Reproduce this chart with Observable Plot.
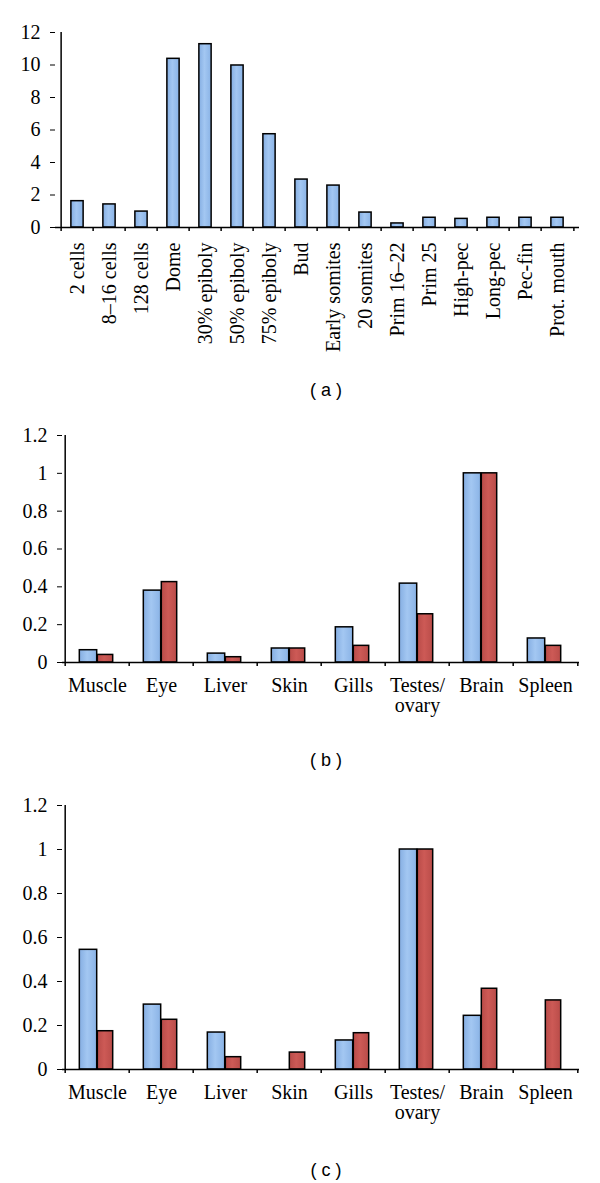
<!DOCTYPE html>
<html><head><meta charset="utf-8">
<script src="https://cdn.jsdelivr.net/npm/d3@7"></script>
<script src="https://cdn.jsdelivr.net/npm/@observablehq/plot@0.6"></script>
<style>
body{margin:0;background:#fff;}
.cap{font-family:"Liberation Sans",Arial,sans-serif;font-size:18px;text-align:center;height:40px;line-height:40px;width:600px;padding-left:52px;box-sizing:border-box;color:#000;}
svg{display:block;}
</style></head><body>
<svg width="0" height="0" style="position:absolute">
  <defs>
    <linearGradient id="gBlue" x1="0" x2="1" y1="0" y2="0">
      <stop offset="0" stop-color="#85aee2"/>
      <stop offset="0.45" stop-color="#a3c7f2"/>
      <stop offset="1" stop-color="#8ab3e6"/>
    </linearGradient>
    <linearGradient id="gRed" x1="0" x2="1" y1="0" y2="0">
      <stop offset="0" stop-color="#b84b48"/>
      <stop offset="0.45" stop-color="#cd5a56"/>
      <stop offset="1" stop-color="#b94c49"/>
    </linearGradient>
  </defs>
</svg>
<div id="root"></div>
<script>
// Panel (a): developmental stages
const stages = ["2 cells","8–16 cells","128 cells","Dome","30% epiboly","50% epiboly","75% epiboly","Bud","Early somites","20 somites","Prim 16–22","Prim 25","High-pec","Long-pec","Pec-fin","Prot. mouth"];
const stageValues = [1.62,1.42,0.98,10.38,11.28,9.97,5.74,2.95,2.58,0.92,0.25,0.6,0.53,0.6,0.6,0.6];
const ticksA = [0,2,4,6,8,10,12];

// Panels (b) and (c): tissues
const tissues = ["Muscle","Eye","Liver","Skin","Gills","Testes/\novary","Brain","Spleen"];
const bBlue = [0.065,0.38,0.047,0.074,0.186,0.417,1.0,0.127];
const bRed  = [0.04,0.425,0.028,0.074,0.088,0.255,1.0,0.088];
const cBlue = [0.544,0.295,0.168,0,0.132,1.0,0.244,0];
const cRed  = [0.174,0.226,0.056,0.077,0.165,1.0,0.367,0.314];
const ticksBC = [0,0.2,0.4,0.6,0.8,1.0,1.2];
const captions = ["( a )","( b )","( c )"];

const BLUE = "url(#gBlue)", RED = "url(#gRed)";
const font = {fontFamily:"'Liberation Serif', 'Times New Roman', serif", fontSize:"20px", color:"#000", background:"#fff", overflow:"visible"};

function boundaryRules(domain, bw, plotH) {
  const last = domain[domain.length-1];
  return [
    Plot.ruleX([domain[0]], {x: d=>d, dx: -bw/2, stroke:"#000", strokeWidth:1.5, insetBottom:-4}),
    Plot.ruleX(domain.slice(1), {x: d=>d, dx: -bw/2, stroke:"#000", strokeWidth:1.5, insetTop: plotH, insetBottom:-4}),
    Plot.ruleX([last], {x: d=>d, dx: bw/2, stroke:"#000", strokeWidth:1.5, insetTop: plotH, insetBottom:-4})
  ];
}

function panelA() {
  const W=600, H=370, mt=32, mb=143, ml=55, mr=21;
  const bw = (W-ml-mr)/stages.length, plotH = H-mt-mb;
  const data = stages.map((k,i)=>({k, v: stageValues[i]}));
  return Plot.plot({
    width: W, height: H, marginTop: mt, marginBottom: mb, marginLeft: ml, marginRight: mr,
    style: font,
    x: {domain: stages, padding: 0, tickSize: 0, tickPadding: 15, tickRotate: -90, label: null},
    y: {domain: [0,12], ticks: ticksA, tickSize: 5, tickPadding: 10, label: null},
    marks: [
      Plot.barY(data, {x:"k", y:"v", fill: BLUE, stroke:"#000", strokeWidth:1.5, insetLeft:(bw-13)/2, insetRight:(bw-13)/2}),
      Plot.ruleY([0], {stroke:"#000", strokeWidth:1.5}),
      ...boundaryRules(stages, bw, plotH)
    ]
  });
}

function panelBC(blue, red, H, mt, mb) {
  const W=600, ml=62, mr=21;
  const bw = (W-ml-mr)/tissues.length, plotH = H-mt-mb;
  const dBlue = tissues.map((k,i)=>({k, v: blue[i]})).filter(d=>d.v>0);
  const dRed = tissues.map((k,i)=>({k, v: red[i]})).filter(d=>d.v>0);
  return Plot.plot({
    width: W, height: H, marginTop: mt, marginBottom: mb, marginLeft: ml, marginRight: mr,
    style: font,
    x: {domain: tissues, padding: 0, tickSize: 0, tickPadding: 15, label: null},
    y: {domain: [0,1.2], ticks: ticksBC, tickFormat: d => String(+d.toFixed(1)), tickSize: 5, tickPadding: 10, label: null},
    marks: [
      Plot.barY(dBlue, {x:"k", y:"v", fill: BLUE, stroke:"#000", strokeWidth:1.5, insetLeft: bw/2-18, insetRight: bw/2}),
      Plot.barY(dRed, {x:"k", y:"v", fill: RED, stroke:"#000", strokeWidth:1.5, insetLeft: bw/2, insetRight: bw/2-16}),
      Plot.ruleY([0], {stroke:"#000", strokeWidth:1.5}),
      ...boundaryRules(tissues, bw, plotH)
    ]
  });
}

function cap(t){ const d=document.createElement("div"); d.className="cap"; d.textContent=t; return d; }

const root = document.getElementById("root");
root.append(panelA(), cap(captions[0]));
root.append(panelBC(bBlue, bRed, 330, 25, 78), cap(captions[1]));
root.append(panelBC(cBlue, cRed, 370, 25, 81), cap(captions[2]));
</script></body></html>
